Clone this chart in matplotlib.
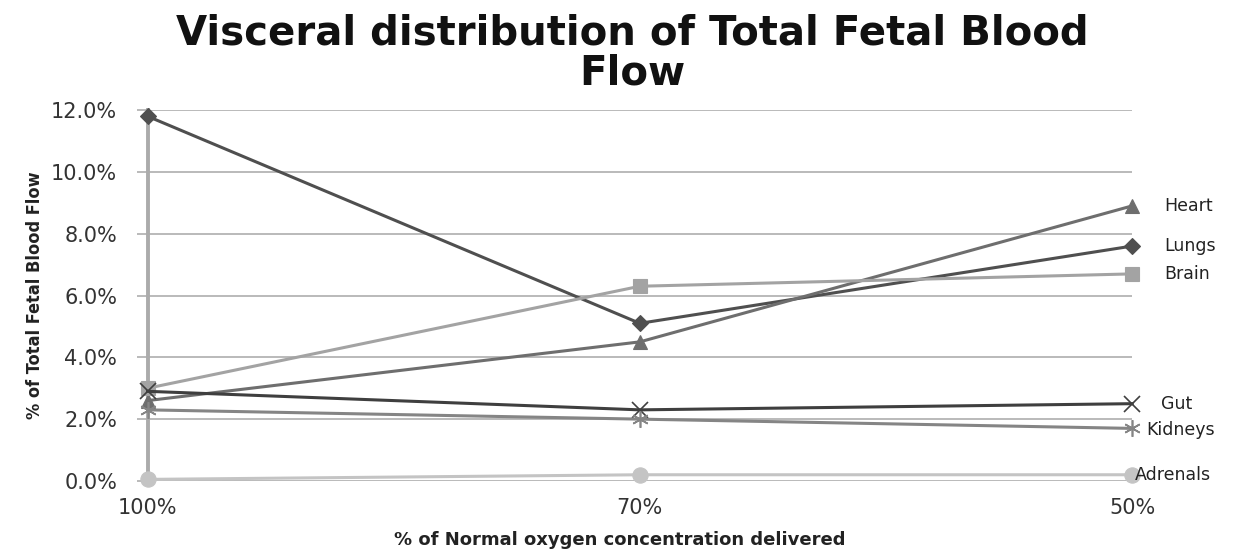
import numpy as np
import matplotlib.pyplot as plt

# categories along the x axis
oxygen_levels = ['100%', '70%', '50%']

# % of total fetal blood flow per organ
lungs = [11.8, 5.1, 7.6]
heart = [2.6, 4.5, 8.9]
brain = [3.0, 6.3, 6.7]
gut = [2.9, 2.3, 2.5]
kidneys = [2.3, 2.0, 1.7]
adrenals = [0.05, 0.2, 0.2]

series = [
    ('Lungs', lungs, '#4f4f4f', 'D', 8),
    ('Heart', heart, '#6e6e6e', '^', 10),
    ('Brain', brain, '#a3a3a3', 's', 10),
    ('Gut', gut, '#3f3f3f', 'x', 11),
    ('Kidneys', kidneys, '#858585', (6, 2, 0), 12),
    ('Adrenals', adrenals, '#c4c4c4', 'o', 11),
]

# end-label offsets in points (x, y)
label_offsets = {
    'Heart': (23, 0),
    'Lungs': (23, 0),
    'Brain': (23, 0),
    'Gut': (21, 0),
    'Kidneys': (10, -1),
    'Adrenals': (2, 0),
}

fig = plt.figure(figsize=(12.4, 5.56), dpi=100)
ax = fig.add_axes([0.119, 0.135, 0.794, 0.667])

x = np.arange(len(oxygen_levels))
for name, vals, color, marker, ms in series:
    ax.plot(x, vals, color=color, lw=2.2, marker=marker, markersize=ms,
            markeredgewidth=1.2 if marker in ('x',) or isinstance(marker, tuple) else 0.8,
            markeredgecolor=color, markerfacecolor=color, clip_on=False, zorder=3)
    dx, dy = label_offsets[name]
    ax.annotate(name, (x[-1], vals[-1]), xytext=(dx, dy), textcoords='offset points',
                ha='left', va='center', fontsize=12.5, color='#222222',
                annotation_clip=False)

ax.set_xlim(0, 2)
ax.set_ylim(0, 12)
ax.set_yticks(np.arange(0, 12.1, 2))
ax.set_yticklabels([f'{v:.1f}%' for v in np.arange(0, 12.1, 2)])
ax.set_xticks(x)
ax.set_xticklabels(oxygen_levels)

ax.grid(axis='y', color='#b4b4b4', lw=1.3)
ax.set_axisbelow(True)
for s in ['top', 'right', 'bottom']:
    ax.spines[s].set_visible(False)
ax.spines['left'].set_color('#ababab')
ax.spines['left'].set_linewidth(2.8)
ax.tick_params(axis='y', length=8, width=1.3, color='#b4b4b4', labelsize=15,
               labelcolor='#333333', pad=14)
ax.tick_params(axis='x', length=0, labelsize=15, labelcolor='#333333', pad=12)

ax.set_ylabel('% of Total Fetal Blood Flow', fontstretch='condensed',
              fontweight='bold', fontsize=13, color='#222222', labelpad=5)
fig.text(0.5, 0.012, '% of Normal oxygen concentration delivered',
         ha='center', va='bottom', fontsize=13, fontweight='bold', color='#222222')
fig.suptitle('Visceral distribution of Total Fetal Blood\nFlow',
             x=0.51, y=0.975, fontsize=29, fontweight='bold', color='#111111',
             linespacing=1.0)

fig.savefig('out.png', dpi=100)
